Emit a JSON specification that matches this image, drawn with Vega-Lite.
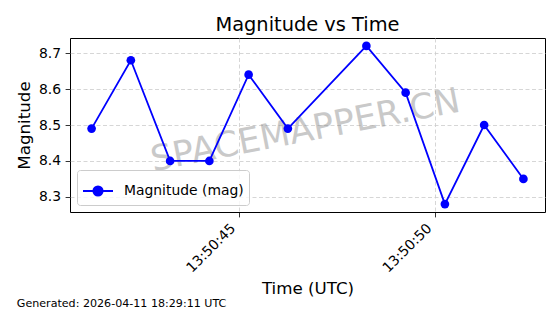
{
  "$schema": "https://vega.github.io/schema/vega-lite/v6.json",
  "autosize": "none",
  "padding": {"left": 70, "top": 38, "right": 15, "bottom": 102},
  "width": 475,
  "height": 174,
  "background": "white",
  "title": {
    "text": "Magnitude vs Time",
    "fontSize": 19.4,
    "font": "DejaVu Sans",
    "fontWeight": "normal",
    "color": "black",
    "anchor": "middle",
    "offset": 3
  },
  "config": {
    "font": "DejaVu Sans",
    "view": {"stroke": "black", "strokeWidth": 1},
    "axis": {
      "domain": false,
      "grid": true,
      "gridColor": "#cccccc",
      "gridDash": [4, 2.5],
      "gridWidth": 0.8,
      "tickColor": "black",
      "tickSize": 4.9,
      "tickWidth": 0.8,
      "labelFont": "DejaVu Sans",
      "labelFontSize": 13.9,
      "labelColor": "black",
      "titleFont": "DejaVu Sans",
      "titleFontSize": 16.7,
      "titleFontWeight": "normal",
      "titleColor": "black"
    }
  },
  "datasets": {
    "obs": [
      {"time": "2026-04-11T13:50:41.250Z", "mag": 8.49},
      {"time": "2026-04-11T13:50:42.250Z", "mag": 8.68},
      {"time": "2026-04-11T13:50:43.250Z", "mag": 8.40},
      {"time": "2026-04-11T13:50:44.250Z", "mag": 8.40},
      {"time": "2026-04-11T13:50:45.250Z", "mag": 8.64},
      {"time": "2026-04-11T13:50:46.250Z", "mag": 8.49},
      {"time": "2026-04-11T13:50:48.250Z", "mag": 8.72},
      {"time": "2026-04-11T13:50:49.250Z", "mag": 8.59},
      {"time": "2026-04-11T13:50:50.250Z", "mag": 8.28},
      {"time": "2026-04-11T13:50:51.250Z", "mag": 8.50},
      {"time": "2026-04-11T13:50:52.250Z", "mag": 8.35}
    ],
    "notes": [
      {"time": "2026-04-11T13:50:46.750Z", "mag": 8.455, "label": "SPACEMAPPER.CN", "kind": "watermark"},
      {"time": "2026-04-11T13:50:39.345Z", "mag": 7.994, "label": "Generated: 2026-04-11 18:29:11 UTC", "kind": "footer"}
    ]
  },
  "layer": [
    {
      "data": {"name": "notes"},
      "transform": [{"filter": "datum.kind === 'watermark'"}],
      "mark": {
        "type": "text",
        "fontSize": 35,
        "font": "DejaVu Sans",
        "angle": 349,
        "align": "center",
        "baseline": "alphabetic",
        "color": "#808080",
        "opacity": 0.42
      },
      "encoding": {
        "x": {"field": "time", "type": "temporal"},
        "y": {"field": "mag", "type": "quantitative"},
        "text": {"field": "label", "type": "nominal"}
      }
    },
    {
      "data": {"name": "obs"},
      "mark": {"type": "line", "strokeWidth": 1.8},
      "encoding": {
        "x": {
          "field": "time",
          "type": "temporal",
          "scale": {
            "type": "utc",
            "domain": [
              {"year": 2026, "month": 4, "date": 11, "hours": 13, "minutes": 50, "seconds": 40, "milliseconds": 700, "utc": true},
              {"year": 2026, "month": 4, "date": 11, "hours": 13, "minutes": 50, "seconds": 52, "milliseconds": 800, "utc": true}
            ],
            "nice": false
          },
          "axis": {
            "title": "Time (UTC)",
            "format": "%H:%M:%S",
            "values": [
              {"year": 2026, "month": 4, "date": 11, "hours": 13, "minutes": 50, "seconds": 45, "utc": true},
              {"year": 2026, "month": 4, "date": 11, "hours": 13, "minutes": 50, "seconds": 50, "utc": true}
            ],
            "labelAngle": -45,
            "labelAlign": "right",
            "labelBaseline": "middle",
            "labelPadding": 9,
            "labelOffset": -6,
            "titlePadding": 6
          }
        },
        "y": {
          "field": "mag",
          "type": "quantitative",
          "scale": {"domain": [8.258, 8.742], "nice": false, "zero": false},
          "axis": {
            "title": "Magnitude",
            "values": [8.3, 8.4, 8.5, 8.6, 8.7],
            "format": ".1f",
            "labelPadding": 4.5,
            "titlePadding": 5
          }
        },
        "color": {
          "datum": "Magnitude (mag)",
          "type": "nominal",
          "scale": {"range": ["#0000ff"]},
          "legend": {
            "title": null,
            "orient": "bottom-left",
            "offset": 7,
            "padding": 5,
            "symbolType": "M-1,0H1M-0.31,0A0.31,0.31,0,1,1,0.31,0A0.31,0.31,0,1,1,-0.31,0Z",
            "symbolSize": 900,
            "symbolStrokeWidth": 1.8,
            "symbolFillColor": "#0000ff",
            "symbolStrokeColor": "#0000ff",
            "labelFont": "DejaVu Sans",
            "labelFontSize": 13.9,
            "labelColor": "black",
            "labelOffset": 10,
            "strokeColor": "#cccccc",
            "fillColor": "rgba(255,255,255,0.8)",
            "cornerRadius": 3
          }
        }
      }
    },
    {
      "data": {"name": "obs"},
      "mark": {"type": "point", "filled": true, "size": 75, "opacity": 1},
      "encoding": {
        "x": {"field": "time", "type": "temporal"},
        "y": {"field": "mag", "type": "quantitative"},
        "color": {"datum": "Magnitude (mag)", "type": "nominal"}
      }
    },
    {
      "data": {"name": "notes"},
      "transform": [{"filter": "datum.kind === 'footer'"}],
      "mark": {
        "type": "text",
        "fontSize": 11.1,
        "font": "DejaVu Sans",
        "align": "left",
        "baseline": "alphabetic",
        "color": "black"
      },
      "encoding": {
        "x": {"field": "time", "type": "temporal"},
        "y": {"field": "mag", "type": "quantitative"},
        "text": {"field": "label", "type": "nominal"}
      }
    }
  ]
}
